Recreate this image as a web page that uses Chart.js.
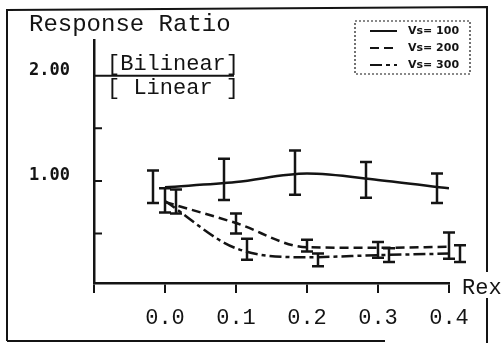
<!DOCTYPE html>
<html>
<head>
<meta charset="utf-8">
<script src="https://cdn.jsdelivr.net/npm/chart.js@4.4.0/dist/chart.umd.min.js"></script>
<style>
  html, body { margin: 0; padding: 0; background: #fff; }
  #wrap { width: 504px; height: 343px; }
</style>
</head>
<body>
<div id="wrap"><canvas id="chart" width="504" height="343"></canvas></div>
<script>
// valores
const rex = [0.0, 0.1, 0.2, 0.3, 0.4];
const vsLabels = ['Vs= 100', 'Vs= 200', 'Vs= 300'];

const vs100 = [0.94, 0.99, 1.07, 1.01, 0.93];
const vs100Low = [0.79, 0.82, 0.87, 0.84, 0.79];
const vs100High = [1.10, 1.21, 1.29, 1.18, 1.07];

const vs200 = [0.80, 0.60, 0.37, 0.365, 0.375];
const vs200Low = [0.70, 0.50, 0.33, 0.27, 0.26];
const vs200High = [0.93, 0.69, 0.44, 0.42, 0.51];

const vs300 = [0.81, 0.36, 0.275, 0.295, 0.31];
const vs300Low = [0.69, 0.25, 0.19, 0.23, 0.23];
const vs300High = [0.92, 0.45, 0.31, 0.36, 0.39];

const xTicks = [-0.1, 0.0, 0.1, 0.2, 0.3, 0.4];
const xTickLabels = ['', '0.0', '0.1', '0.2', '0.3', '0.4'];
const yTicks = [0.5, 1.0, 1.5, 2.0];
const yTickLabels = ['', '1.00', '', '2.00'];

const INK = '#141414';

function toPoints(ys) {
  return ys.map((v, i) => ({x: rex[i], y: v}));
}

// barras de erro (desenhadas com as escalas do grafico)
const errorBarPlugin = {
  id: 'errorBars',
  afterDatasetsDraw(chart) {
    const ctx = chart.ctx;
    const xs = chart.scales.x, ys = chart.scales.y;
    ctx.save();
    ctx.strokeStyle = INK;
    ctx.lineWidth = 2.5;
    ctx.setLineDash([]);
    chart.data.datasets.forEach(ds => {
      ds.errLow.forEach((lo, i) => {
        const px = xs.getPixelForValue(rex[i]) + ds.errShift;
        const y1 = ys.getPixelForValue(lo);
        const y2 = ys.getPixelForValue(ds.errHigh[i]);
        ctx.beginPath();
        ctx.moveTo(px, y1); ctx.lineTo(px, y2);
        ctx.moveTo(px - 6, y1); ctx.lineTo(px + 6, y1);
        ctx.moveTo(px - 6, y2); ctx.lineTo(px + 6, y2);
        ctx.stroke();
      });
    });
    ctx.restore();
  }
};

// moldura, textos e legenda
const decorPlugin = {
  id: 'decor',
  afterDraw(chart) {
    const ctx = chart.ctx;
    const {left} = chart.chartArea;
    const ys = chart.scales.y;
    ctx.save();
    ctx.strokeStyle = INK;
    ctx.fillStyle = INK;

    // moldura
    ctx.lineWidth = 2;
    ctx.beginPath();
    ctx.moveTo(7, 341); ctx.lineTo(7, 10); ctx.lineTo(487, 7); ctx.lineTo(487, 272);
    ctx.moveTo(487, 298); ctx.lineTo(487, 343);
    ctx.moveTo(7, 341); ctx.lineTo(385, 341);
    ctx.stroke();

    // ticks do eixo y (para dentro)
    ctx.lineWidth = 2;
    ctx.beginPath();
    yTicks.forEach(v => {
      if (v === 2.0) return;
      const py = ys.getPixelForValue(v);
      ctx.moveTo(left, py); ctx.lineTo(left + 8, py);
    });
    // barra da fracao no 2.00
    const p2 = ys.getPixelForValue(2.0);
    ctx.moveTo(left, p2); ctx.lineTo(left + 140, p2);
    ctx.stroke();

    ctx.textBaseline = 'middle';
    ctx.textAlign = 'left';
    ctx.font = '24px "Liberation Mono"';
    ctx.fillText('Response Ratio', 29, 25);
    ctx.font = '22px "Liberation Mono"';
    ctx.fillText('[Bilinear]', 107, p2 - 12);
    ctx.fillText('[ Linear ]', 107, p2 + 12);
    ctx.fillText('Rex', 462, 288);

    // legenda
    ctx.lineWidth = 1.2;
    ctx.setLineDash([2, 2]);
    ctx.strokeRect(355, 21, 115, 53);
    ctx.font = 'bold 11px "DejaVu Sans"';
    chart.data.datasets.forEach((ds, i) => {
      const ly = 31 + i * 17;
      ctx.setLineDash(ds.borderDash || []);
      ctx.lineWidth = 2;
      ctx.beginPath();
      ctx.moveTo(370, ly); ctx.lineTo(397, ly);
      ctx.stroke();
      ctx.fillText(ds.label, 408, ly);
    });
    ctx.restore();
  }
};

const config = {
  type: 'line',
  data: {
    datasets: [
      {
        label: vsLabels[0],
        data: toPoints(vs100),
        errLow: vs100Low, errHigh: vs100High, errShift: -12,
        borderColor: INK, borderWidth: 2.5, borderDash: []
      },
      {
        label: vsLabels[1],
        data: toPoints(vs200),
        errLow: vs200Low, errHigh: vs200High, errShift: 0,
        borderColor: INK, borderWidth: 2.5, borderDash: [9, 5]
      },
      {
        label: vsLabels[2],
        data: toPoints(vs300),
        errLow: vs300Low, errHigh: vs300High, errShift: 11,
        borderColor: INK, borderWidth: 2.5, borderDash: [12, 4, 4, 4]
      }
    ]
  },
  options: {
    responsive: false,
    animation: false,
    layout: { padding: { top: 40, right: 55, left: 0, bottom: 0 } },
    elements: {
      point: { radius: 0 },
      line: { cubicInterpolationMode: 'monotone', fill: false }
    },
    plugins: {
      legend: { display: false },
      tooltip: { enabled: false }
    },
    scales: {
      x: {
        type: 'linear',
        min: -0.1,
        max: 0.4,
        afterBuildTicks: s => { s.ticks = xTicks.map(v => ({value: v})); },
        afterFit: s => { s.height = 60; },
        ticks: {
          color: INK,
          padding: 12,
          maxRotation: 0,
          font: { family: 'Liberation Mono', size: 22 },
          callback: (v, i) => xTickLabels[i]
        },
        grid: { drawOnChartArea: false, drawTicks: true, tickLength: 10, color: INK, lineWidth: 2 },
        border: { color: INK, width: 2.5 }
      },
      y: {
        type: 'linear',
        min: 0.03,
        max: 2.34,
        afterBuildTicks: s => { s.ticks = yTicks.map(v => ({value: v})); },
        afterFit: s => { s.width = 94; },
        ticks: {
          color: INK,
          padding: 24,
          labelOffset: -5,
          font: { family: 'DejaVu Sans Mono', size: 17, weight: 'bold' },
          callback: (v, i) => yTickLabels[i]
        },
        grid: { drawOnChartArea: false, drawTicks: false },
        border: { color: INK, width: 2.5 }
      }
    }
  },
  plugins: [errorBarPlugin, decorPlugin]
};

const myChart = new Chart(document.getElementById('chart'), config);
</script>
</body>
</html>
